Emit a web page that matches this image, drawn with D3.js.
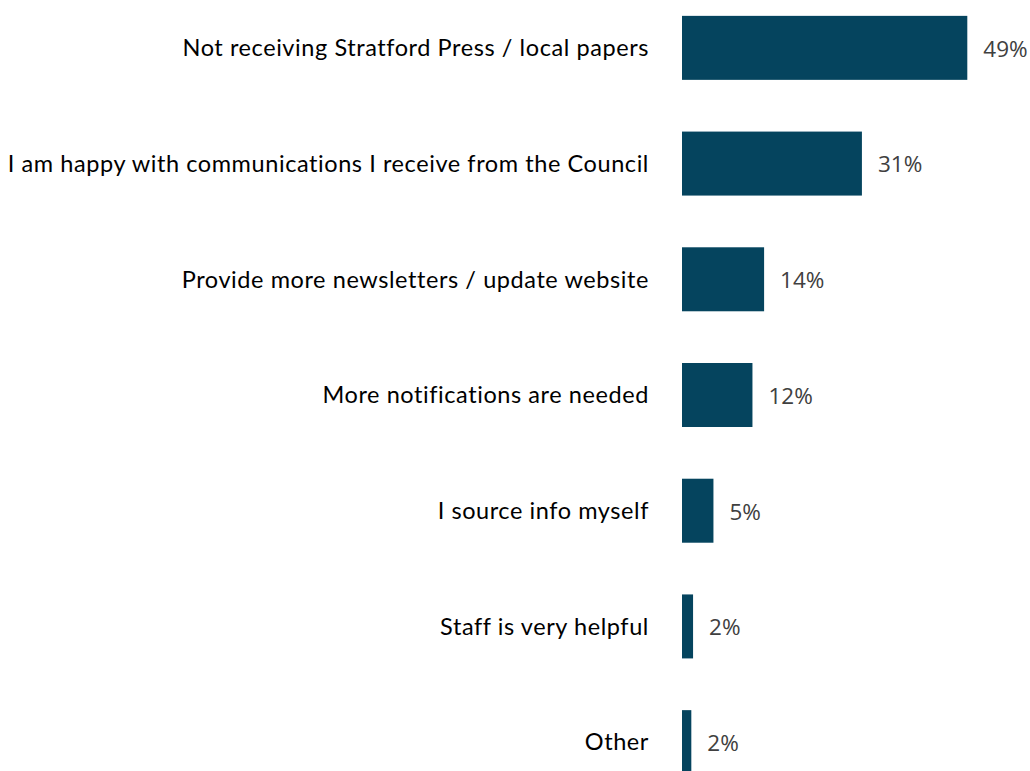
<!DOCTYPE html>
<html>
<head>
  <meta charset="UTF-8">
  <title>communications</title>
  <style>
    body { margin: 0; background: #fff; }
  </style>
</head>
<body>
  <div class="svg-zone"></div>
  <script src="https://cdn.jsdelivr.net/npm/d3@7"></script>
  <script type="text/javascript">
  // answers, top to bottom
  let categories = [
    "Not receiving Stratford Press / local papers",
    "I am happy with communications I receive from the Council",
    "Provide more newsletters / update website",
    "More notifications are needed",
    "I source info myself",
    "Staff is very helpful",
    "Other"
  ];
  let values = [49.0, 30.9, 14.1, 12.1, 5.4, 1.9, 1.6];
  let labels = ["49%", "31%", "14%", "12%", "5%", "2%", "2%"];

  let data = categories.map(function (c, i) {
    return { answer: c, pct: values[i], label: labels[i] };
  });

  var width = 1030,
    height = 771;

  var x0 = 682;
  var x = d3.scaleLinear()
    .domain([0, 49])
    .range([x0, 967.3]);

  var y = d3.scaleBand()
    .domain(categories)
    .range([-10, 800])
    .paddingInner(0.447)
    .paddingOuter(0.2235);

  var svg = d3.select(".svg-zone").append("svg")
    .attr("width", width)
    .attr("height", height);

  var g = svg.append("g");

  g.selectAll(".bar")
    .data(data)
    .enter().append("rect")
    .attr("class", "bar")
    .attr("x", x(0))
    .attr("y", function (d) { return y(d.answer); })
    .attr("width", function (d) { return x(d.pct) - x(0); })
    .attr("height", y.bandwidth())
    .style("fill", "#05445e");

  g.selectAll(".val")
    .data(data)
    .enter().append("text")
    .attr("class", "val")
    .attr("x", function (d) { return x(d.pct) + 16; })
    .attr("y", function (d) { return y(d.answer) + y.bandwidth() / 2 + 1; })
    .attr("dy", "0.35em")
    .style("font-family", "'Open Sans', sans-serif")
    .style("font-size", "22.5px")
    .style("fill", "#404040")
    .text(function (d) { return d.label; });

  g.selectAll(".cat")
    .data(data)
    .enter().append("text")
    .attr("class", "cat")
    .attr("x", 649)
    .attr("y", function (d) { return y(d.answer) + y.bandwidth() / 2; })
    .attr("dy", "0.35em")
    .attr("text-anchor", "end")
    .style("font-family", "Lato, sans-serif")
    .style("font-size", "23.5px")
    .style("letter-spacing", "0.58px")
    .style("fill", "#000")
    .text(function (d) { return d.answer; });
  </script>
</body>
</html>
